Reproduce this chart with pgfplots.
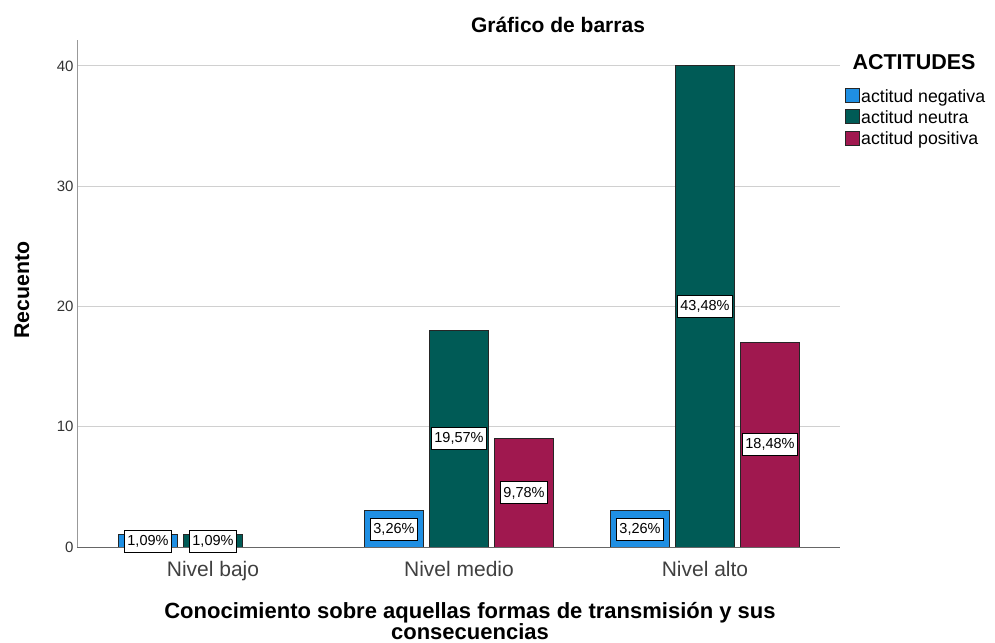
\documentclass[border=0pt]{standalone}
\usepackage{fontspec}
\setmainfont{Liberation Sans}
\usepackage{pgfplots}
\pgfplotsset{compat=1.18}
\definecolor{cneg}{HTML}{1F8FE3}
\definecolor{cneu}{HTML}{005B56}
\definecolor{cpos}{HTML}{A0184F}
\definecolor{gridc}{HTML}{D0D0D0}
\pgfplotsset{sqleg/.style={legend image code/.code={\draw[##1] (0bp,-6bp) rectangle (14bp,8bp);}}}
\begin{document}
\begin{tikzpicture}
\path[use as bounding box] (-77bp,-96bp) rectangle (918bp,547bp);
\begin{axis}[
  at={(0,0)}, anchor=south west,
  scale only axis, width=763bp, height=507bp,
  xmin=-0.5528, xmax=2.5488, ymin=0, ymax=42.15,
  axis x line*=bottom, axis y line*=left,
  x axis line style={-, draw=black!60, line width=1bp},
  y axis line style={-, draw=black!40, line width=1bp},
  ytick={0,10,20,30,40}, xtick={0,1,2},
  xticklabels={Nivel bajo, Nivel medio, Nivel alto},
  major tick length=0pt,
  ymajorgrids, grid style={draw=gridc, line width=1bp},
  /pgf/number format/assume math mode=true,
  yticklabel style={font=\fontsize{15bp}{18bp}\selectfont, text=black!80},
  xticklabel style={font=\fontsize{21bp}{24bp}\selectfont, text=black!75, yshift=-11bp},
  ybar, bar width=59bp,
  nodes near coords,
  point meta=explicit symbolic,
  visualization depends on={y \as \rawy},
  every node near coord/.append style={anchor=center, shift={(axis direction cs:0,-\rawy/2)}, draw=black, fill=white, line width=0.8bp, inner xsep=3bp, inner ysep=0bp, minimum height=22bp, font=\fontsize{14.5bp}{17bp}\selectfont, text=black},
  legend cell align=left,
  legend style={at={(1.0065,0.907)}, anchor=north west, draw=none, fill=none, inner sep=0pt, row sep=3bp, font=\fontsize{17.7bp}{20bp}\selectfont, /tikz/every odd column/.append style={column sep=-1bp}},
]
\addplot[fill=cneg, draw=black!85, line width=1bp, bar shift=-65bp, sqleg]
  coordinates {(0,1) [1,09\%] (1,3) [3,26\%] (2,3) [3,26\%]};
\addlegendentry{actitud negativa}
\addplot[fill=cneu, draw=black!85, line width=1bp, bar shift=0bp, sqleg]
  coordinates {(0,1) [1,09\%] (1,18) [19,57\%] (2,40) [43,48\%]};
\addlegendentry{actitud neutra}
\addplot[fill=cpos, draw=black!85, line width=1bp, bar shift=65bp, sqleg]
  coordinates {(1,9) [9,78\%] (2,17) [18,48\%]};
\addlegendentry{actitud positiva}
\end{axis}
\node[font=\fontsize{21bp}{24bp}\selectfont\bfseries] at (481bp,522bp) {Gráfico de barras};
\node[font=\fontsize{21.5bp}{24bp}\selectfont\bfseries, anchor=west] at (772bp,485bp) {ACTITUDES};
\node[font=\fontsize{21.3bp}{24bp}\selectfont\bfseries, rotate=90] at (-55bp,257bp) {Recuento};
\node[font=\fontsize{22bp}{20bp}\selectfont\bfseries, align=center] at (393bp,-74bp) {Conocimiento sobre aquellas formas de transmisión y sus\\consecuencias};
\end{tikzpicture}
\end{document}
